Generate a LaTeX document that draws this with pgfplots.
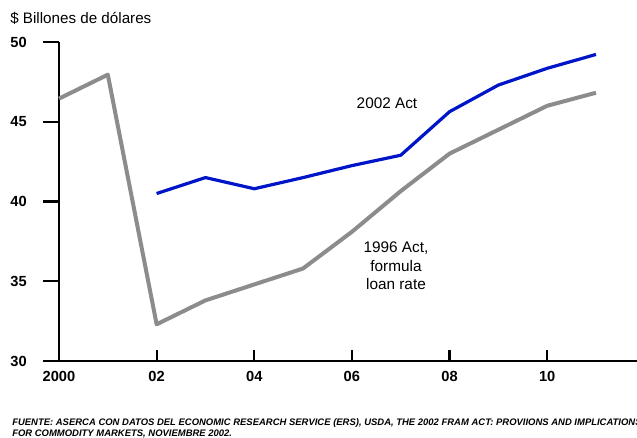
\documentclass[border=0pt]{standalone}
\usepackage{pgfplots}
\pgfplotsset{compat=1.18}
\usepackage{fontspec}
\setmainfont{Liberation Sans}
\definecolor{actnew}{RGB}{0,20,200}
\definecolor{actold}{RGB}{140,140,140}
\begin{document}
\begin{tikzpicture}[x=0.75pt,y=0.75pt]
\useasboundingbox (0,0) rectangle (637,437);
\begin{axis}[
  at={(44.25pt,57pt)}, anchor=south west, scale only axis,
  width=433.5pt, height=239.25pt,
  xmin=2000, xmax=2011.84, ymin=30, ymax=50,
  axis lines=left, axis line style={-, line width=1.5pt},
  clip=false,
  xtick={2000,2002,2004,2006,2008,2010},
  xticklabels={2000,02,04,06,08,10},
  ytick={30,35,40,45,50},
  tick align=outside, major tick length=12pt,
  every tick/.style={black, line width=1.6pt},
  ytick style={black, line width=1.6pt},
  xtick style={/pgfplots/major tick length=8.25pt, yshift=8.25pt},
  ticklabel style={font=\fontsize{11}{13}\selectfont\bfseries},
  yticklabel style={anchor=east, inner sep=0pt, xshift=-12pt},
  xticklabel style={anchor=north, inner sep=0pt, yshift=4.5pt},
  /pgf/number format/assume math mode=true,
]
% 1996 Act, formula loan rate
\addplot[actold, line width=3pt, line join=round] coordinates {
  (2000,46.45) (2001,47.95) (2002,32.3) (2003,33.8) (2004,34.8)
  (2005,35.8) (2006,38.1) (2007,40.65) (2008,43.0) (2009,44.5)
  (2010,46.0) (2011,46.82)};
% 2002 Act
\addplot[actnew, line width=2.4pt, line join=round] coordinates {
  (2002,40.5) (2003,41.5) (2004,40.8) (2005,41.5) (2006,42.25)
  (2007,42.9) (2008,45.63) (2009,47.3) (2010,48.35) (2011,49.22)};
\end{axis}
\begin{scope}[every node/.style={inner sep=0pt}]
\node[anchor=base west, font=\fontsize{11.4}{13}\selectfont] at (10,414) {\$ Billones de dólares};
\node[anchor=base, font=\fontsize{11.5}{13}\selectfont] at (387,329) {2002 Act};
\node[anchor=base, font=\fontsize{11.5}{13}\selectfont] at (396,185) {1996 Act,};
\node[anchor=base, font=\fontsize{11.5}{13}\selectfont] at (396,166) {formula};
\node[anchor=base, font=\fontsize{11.5}{13}\selectfont] at (396,148) {loan rate};
\node[anchor=base west, font=\fontsize{7.1}{8}\selectfont\bfseries\itshape] at (12,12)
  {FUENTE: ASERCA CON DATOS DEL ECONOMIC RESEARCH SERVICE (ERS), USDA, THE 2002 FRAM ACT: PROVIIONS AND IMPLICATIONS};
\node[anchor=base west, font=\fontsize{7.1}{8}\selectfont\bfseries\itshape] at (12,1)
  {FOR COMMODITY MARKETS, NOVIEMBRE 2002.};
\end{scope}
\end{tikzpicture}
\end{document}
